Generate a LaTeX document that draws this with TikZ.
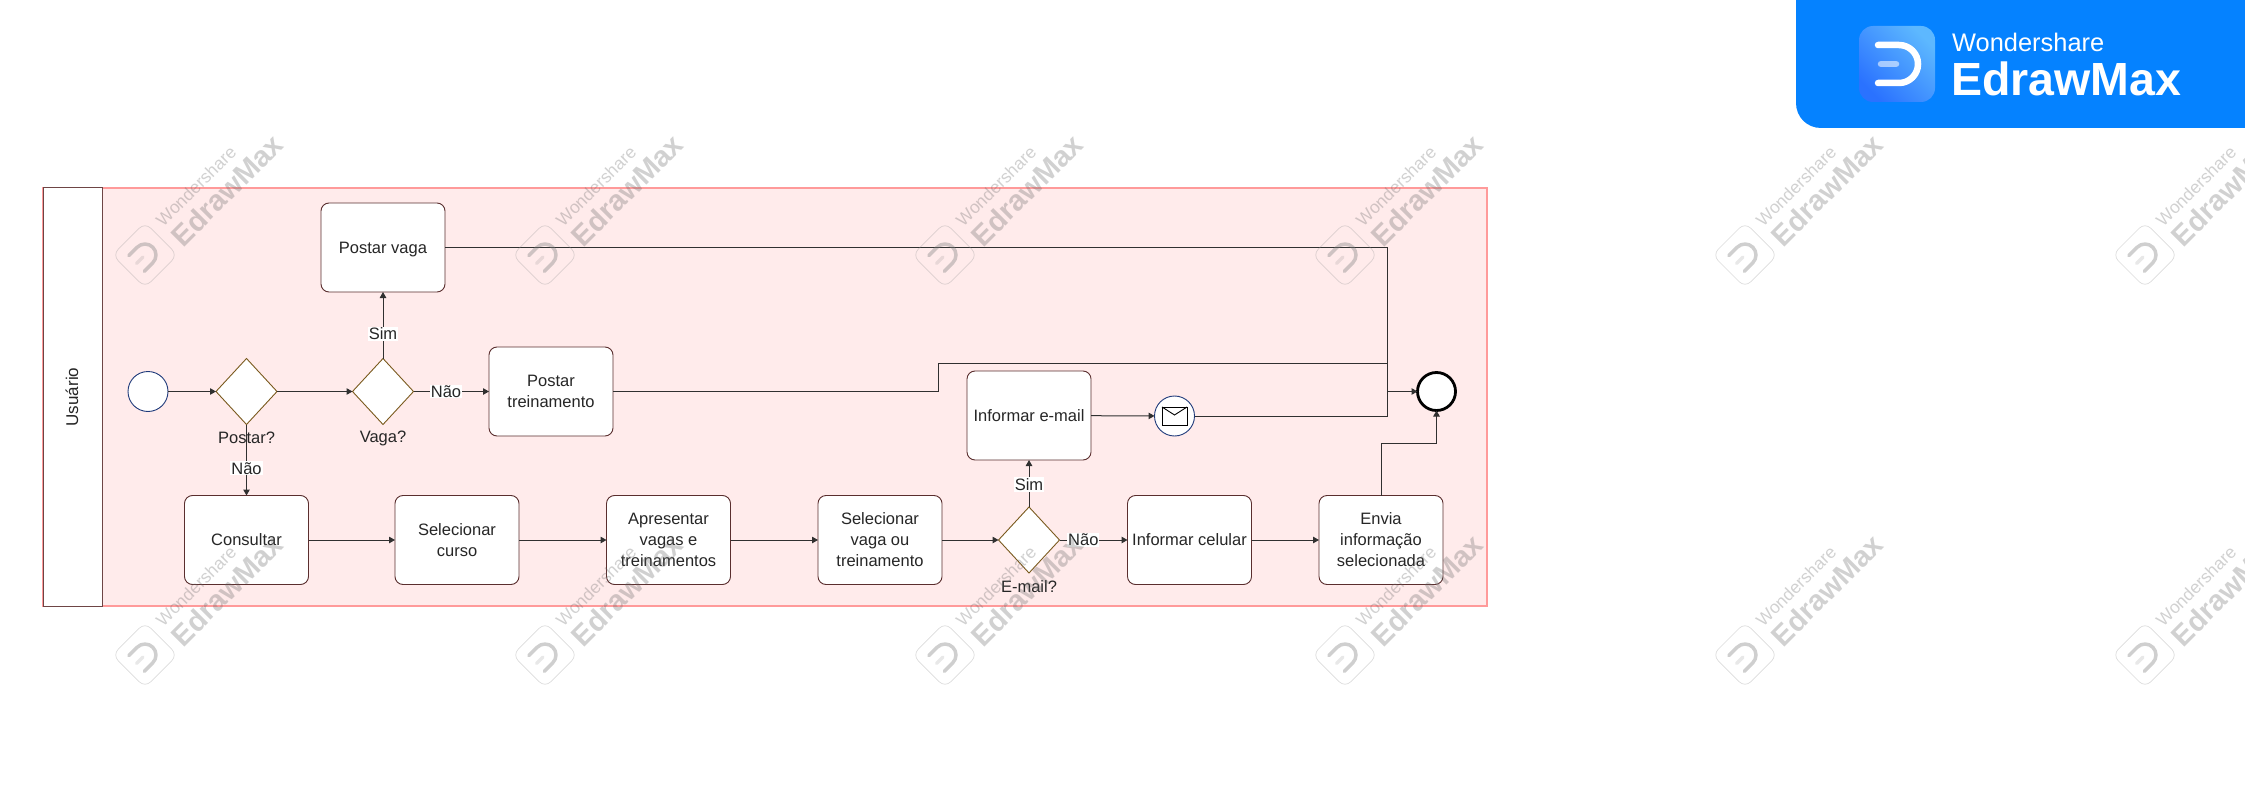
\documentclass[tikz,border=0pt]{standalone}
\usepackage{xcolor}
\usepackage{fontspec}
\setmainfont{Liberation Sans}
\usetikzlibrary{shapes.geometric, arrows.meta, positioning}
\definecolor{lanefill}{HTML}{FFEBEB}
\definecolor{laneline}{HTML}{FF9A9A}
\definecolor{headline}{HTML}{6E4545}
\definecolor{taskline}{HTML}{5A2E2E}
\definecolor{gateline}{HTML}{7A5A1E}
\definecolor{startline}{HTML}{1F3A7A}
\definecolor{flowline}{HTML}{303030}
\definecolor{badgeblue}{HTML}{0582FF}
\definecolor{iconlight}{HTML}{5DB8FF}
\definecolor{icondeep}{HTML}{2A72FF}
\tikzset{
  lbl/.style={font=\fontsize{16.5}{21}\selectfont, text=black!85, align=center},
  rotulo/.style={lbl, fill=white, inner sep=1pt},
  tarefa/.style={lbl, draw=taskline, fill=white, rounded corners=8pt, line width=0.9pt,
                 minimum height=89pt, outer sep=0pt, inner sep=0pt},
  decisao/.style={diamond, draw=gateline, fill=white, line width=0.9pt, inner sep=0pt,
                  outer sep=0pt, minimum width=61pt, minimum height=66pt},
  evento/.style={circle, draw=startline, fill=white, line width=0.9pt, inner sep=0pt, outer sep=0pt},
  fluxo/.style={-{Triangle[length=6pt, width=6.5pt]}, line width=1pt, color=flowline},
  linha/.style={line width=1pt, color=flowline},
  wmicon/.style={draw=black!40, rounded corners=8pt, line width=0.7pt, opacity=0.35,
                 minimum size=46pt, inner sep=0pt, rotate=45},
  wmthin/.style={font=\fontsize{17.5}{20}\selectfont, text=black!60, opacity=0.3, rotate=45},
  wmbold/.style={font=\fontsize{29}{32}\selectfont\bfseries, text=black!60, opacity=0.3, rotate=45},
}

\begin{document}
\begin{tikzpicture}[x=1pt, y=-1pt]
  \useasboundingbox (0,0) rectangle (2245,794);
  % raia
  \node[draw=laneline, fill=lanefill, line width=1.1pt, minimum width=1444pt, minimum height=418pt,
        inner sep=0pt, outer sep=0pt] (raia) at (765,397) {};
  \node[draw=headline, fill=white, line width=1pt, minimum width=59pt, minimum height=418pt,
        inner sep=0pt, outer sep=0pt] (cabeca) at (73,397) {};
  \node[lbl, rotate=90, font=\fontsize{17}{21}\selectfont] (usuario) at (72,397) {Usuário};
  % eventos e decisoes
  \node[evento, minimum size=40pt] (inicio) at (148,391.5) {};
  \node[decisao] (postar) at (246.5,391.5) {};
  \node[decisao] (vaga) at (383,391.5) {};
  \node[decisao] (email) at (1029,540) {};
  \node[evento, minimum size=40pt] (mensagem) at (1174.5,416) {};
  \node[draw=black, fill=white, line width=0.9pt, minimum width=25pt, minimum height=18pt,
        inner sep=0pt, outer sep=0pt] (envelope) at (1174.5,416) {};
  \coordinate (aba) at (1174.5,415);
  \draw[black, line width=0.9pt] (envelope.north west) -- (aba) -- (envelope.north east);
  \node[circle, draw=black, fill=white, line width=2.8pt, minimum size=38pt, inner sep=0pt, outer sep=0pt] (fim) at (1436.5,391.5) {};
  % tarefas
  \node[tarefa, minimum width=124pt, text depth=0pt] (pvaga) at (383,247.5) {Postar vaga};
  \node[tarefa, minimum width=124pt] (ptrein) at (551,391.5) {Postar\\treinamento};
  \node[tarefa, minimum width=124pt] (consultar) at (246.5,540) {Consultar};
  \node[tarefa, minimum width=124pt] (curso) at (457,540) {Selecionar\\curso};
  \node[tarefa, minimum width=124pt] (apresentar) at (668.5,540) {Apresentar\\vagas e\\treinamentos};
  \node[tarefa, minimum width=124pt] (selvaga) at (880,540) {Selecionar\\vaga ou\\treinamento};
  \node[tarefa, minimum width=124pt] (iemail) at (1029,415.5) {Informar e-mail};
  \node[tarefa, minimum width=124pt] (icel) at (1189.5,540) {Informar celular};
  \node[tarefa, minimum width=124pt] (envia) at (1381,540) {Envia\\informação\\selecionada};
  % nomes das decisoes
  \node[lbl] (tpostar) at (246.5,438) {Postar?};
  \node[lbl] (tvaga) at (383,438) {Vaga?};
  \node[lbl] (temail) at (1029,587) {E-mail?};
  % pontos de juncao
  \coordinate (juncao) at (1387.5,391.5);
  \coordinate (degrau) at (938.5,363.5);
  \coordinate (dobra) at (1436.5,443.5);
  % fluxos
  \draw[fluxo] (inicio) -- (postar);
  \draw[fluxo] (postar) -- (vaga);
  \draw[fluxo] (postar) -- node[rotulo, pos=0.615] (nao1) {Não} (consultar);
  \draw[fluxo] (vaga) -- node[rotulo, pos=0.37] (sim1) {Sim} (pvaga);
  \draw[fluxo] (vaga) -- node[rotulo, pos=0.43] (nao2) {Não} (ptrein);
  \draw[fluxo] (consultar) -- (curso);
  \draw[fluxo] (curso) -- (apresentar);
  \draw[fluxo] (apresentar) -- (selvaga);
  \draw[fluxo] (selvaga) -- (email);
  \draw[fluxo] (email) -- node[rotulo, pos=0.35] (nao3) {Não} (icel);
  \draw[fluxo] (email) -- node[rotulo, pos=0.48] (sim2) {Sim} (iemail);
  \draw[fluxo] (icel) -- (envia);
  \draw[fluxo] (iemail) -- (mensagem);
  \draw[linha] (pvaga) -| (juncao);
  \draw[linha] (ptrein) -| (degrau) -- (degrau -| juncao);
  \draw[linha] (mensagem) -| (juncao);
  \draw[fluxo] (juncao) -- (fim);
  \draw[fluxo] (envia.north) |- (dobra) -- (fim.south);
  % marca d'agua
  \foreach \wx in {145,545,945,1345,1745,2145} {
    \foreach \wy in {255,655} {
      \node[wmicon] (wmi\wx\wy) at (\wx,\wy) {};
      \node[wmthin] (wmt\wx\wy) at (\wx+51,\wy-69) {Wondershare};
      \node[wmbold] (wmb\wx\wy) at (\wx+82,\wy-65) {EdrawMax};
      \begin{scope}[shift={(\wx,\wy)}, rotate=45]
        \draw[black!50, opacity=0.38, line width=3.5pt, line cap=round]
          (-12,-11) -- (0,-11) .. controls (6,-11) and (11,-6) .. (11,0)
          .. controls (11,6) and (6,11) .. (0,11) -- (-12,11);
        \draw[black!50, opacity=0.18, line width=3.5pt, line cap=round] (-12,0) -- (-3,0);
      \end{scope}
    }
  }
  % selo
  \fill[badgeblue] (1796,0) -- (1796,103) .. controls (1796,117) and (1807,128) .. (1821,128)
    -- (2245,128) -- (2245,0) -- cycle;
  \node[rounded corners=14pt, minimum size=76pt, inner sep=0pt, outer sep=0pt, shading=axis,
        top color=iconlight, bottom color=icondeep, shading angle=-45] (icone) at (1897,64) {};
  \draw[white, line width=6.5pt, line cap=round]
    (1878,45) -- (1899,45) .. controls (1909.5,45) and (1918,53.5) .. (1918,64)
    .. controls (1918,74.5) and (1909.5,83) .. (1899,83) -- (1878,83);
  \draw[white, opacity=0.55, line width=6.5pt, line cap=round] (1881,64) -- (1896,64);
  \node[anchor=base west, inner sep=0pt, text=white, font=\fontsize{25.4}{30}\selectfont] (marca) at (1952,52) {Wondershare};
  \node[anchor=base west, inner sep=0pt, text=white, font=\fontsize{46.5}{50}\selectfont\bfseries] (produto) at (1951,96) {EdrawMax};
\end{tikzpicture}
\end{document}
